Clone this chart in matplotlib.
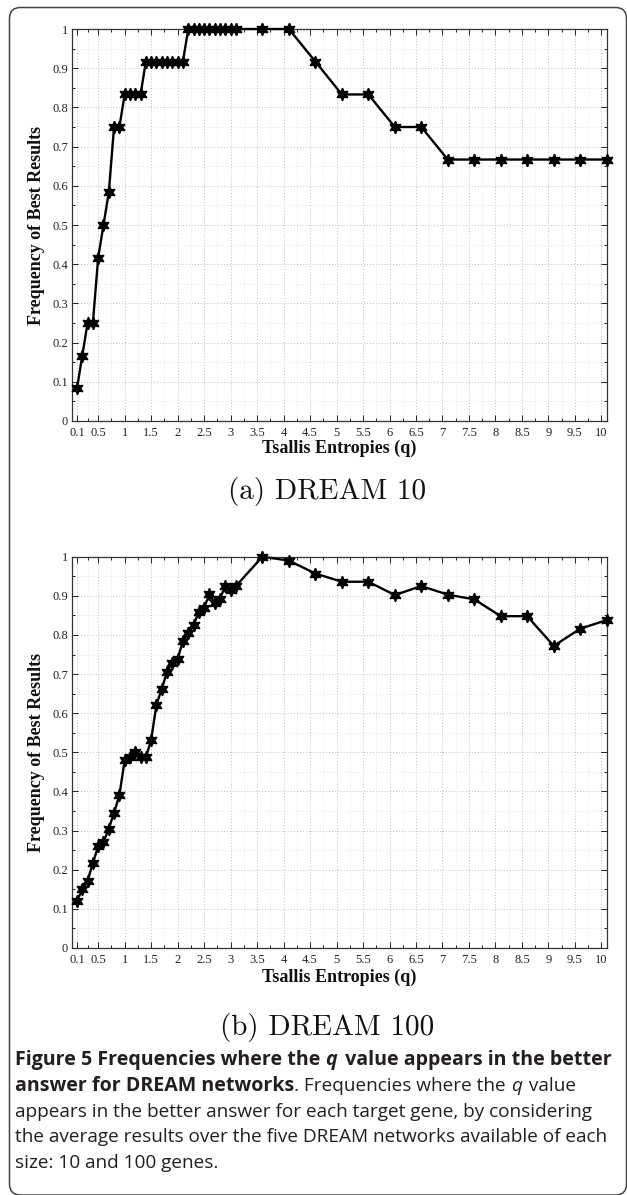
import numpy as np
import matplotlib
matplotlib.use("Agg")
import matplotlib.pyplot as plt
from matplotlib.patches import FancyBboxPatch

# q values tested (same for both panels)
q_vals = [0.1, 0.2, 0.3, 0.4, 0.5, 0.6, 0.7, 0.8, 0.9, 1.0, 1.1, 1.2, 1.3, 1.4, 1.5,
          1.6, 1.7, 1.8, 1.9, 2.0, 2.1, 2.2, 2.3, 2.4, 2.5, 2.6, 2.7, 2.8, 2.9, 3.0,
          3.1, 3.6, 4.1, 4.6, 5.1, 5.6, 6.1, 6.6, 7.1, 7.6, 8.1, 8.6, 9.1, 9.6, 10.1]

dream10 = [0.083, 0.167, 0.25, 0.25, 0.417, 0.5, 0.583, 0.75, 0.75,
           0.833, 0.833, 0.833, 0.833,
           0.917, 0.917, 0.917, 0.917, 0.917, 0.917, 0.917, 0.917,
           1.0, 1.0, 1.0, 1.0, 1.0, 1.0, 1.0, 1.0, 1.0, 1.0,
           1.0, 1.0, 0.917, 0.833, 0.833, 0.75, 0.75,
           0.667, 0.667, 0.667, 0.667, 0.667, 0.667, 0.667]

dream100 = [0.12, 0.15, 0.172, 0.217, 0.26, 0.27, 0.305, 0.346, 0.39,
            0.48, 0.487, 0.50, 0.487, 0.487, 0.532, 0.622, 0.662, 0.706, 0.728, 0.739,
            0.784, 0.805, 0.825, 0.859, 0.870, 0.904, 0.882, 0.893, 0.925, 0.915, 0.925,
            1.0, 0.99, 0.957, 0.936, 0.936, 0.902, 0.925, 0.903, 0.891, 0.848, 0.848,
            0.772, 0.816, 0.838]

xtick_labels = ["0.1", "0.5", "1", "1.5", "2", "2.5", "3", "3.5", "4", "4.5", "5", "5.5",
                "6", "6.5", "7", "7.5", "8", "8.5", "9", "9.5", "10"]
ytick_labels = ["0", "0.1", "0.2", "0.3", "0.4", "0.5", "0.6", "0.7", "0.8", "0.9", "1"]

W, H = 627, 1195
SERIF = "Liberation Serif"
INK = "#231f20"

fig = plt.figure(figsize=(W/100, H/100), dpi=100)

def px(x0, y0, x1, y1):
    # pixel box (top-left origin) -> figure fraction [l, b, w, h]
    return [x0/W, 1 - y1/H, (x1-x0)/W, (y1-y0)/H]

def panel(rect, vals):
    ax = fig.add_axes(rect)
    xt = [float(s) for s in xtick_labels]
    yt = [float(s) for s in ytick_labels]
    ax.set_xlim(0, 10.1); ax.set_ylim(0, 1)
    ax.set_xticks(xt); ax.set_xticklabels(xtick_labels, fontfamily=SERIF, fontsize=9)
    ax.set_yticks(yt); ax.set_yticklabels(ytick_labels, fontfamily=SERIF, fontsize=9)
    ax.set_xticks([(a+b)/2 for a, b in zip(xt[:-1], xt[1:])], minor=True)
    ax.set_yticks([(a+b)/2 for a, b in zip(yt[:-1], yt[1:])], minor=True)
    ax.tick_params(which="both", direction="in", top=True, right=True, width=0.7, colors="#222")
    ax.tick_params(which="major", length=4.5)
    ax.tick_params(which="minor", length=2.5)
    ax.tick_params(axis="x", pad=4); ax.tick_params(axis="y", pad=2.5)
    ax.grid(True, which="major", color="#aaaaaa", lw=0.6, ls=(0, (1, 2.5)))
    ax.grid(True, which="minor", color="#d2d2d2", lw=0.5, ls=(0, (1, 2.5)))
    ax.set_axisbelow(True)
    for s in ax.spines.values():
        s.set_linewidth(0.9); s.set_color("#333")
    ax.plot(q_vals, vals, color="black", lw=1.7, marker=(6, 1, 0), ms=9,
            mfc="black", mec="black", clip_on=False, zorder=3)
    return ax

panel(px(71.7, 29, 606.7, 421), dream10)
panel(px(71.7, 556.7, 606.7, 948), dream100)

def ftext(x, y, s, **kw):
    return fig.text(x/W, 1 - y/H, s, **kw)

for yc, xl in [(225, 448), (752, 977)]:
    ftext(37, yc, "Frequency of Best Results", rotation=90, ha="center", va="center",
          fontfamily=SERIF, fontweight="bold", fontsize=13, color="#111")
    ftext(339, xl, "Tsallis Entropies (q)", ha="center", va="center",
          fontfamily=SERIF, fontweight="bold", fontsize=13, color="#111")

ftext(327, 492, "(a) DREAM 10", ha="center", va="center", fontfamily="cmr10", fontsize=21, color="#111")
ftext(327, 1027, "(b) DREAM 100", ha="center", va="center", fontfamily="cmr10", fontsize=21, color="#111")

# caption with mixed bold / italic runs
B, N, BI, I = ("bold", "normal"), ("normal", "normal"), ("bold", "italic"), ("normal", "italic")
caption = [
    [("Figure 5 Frequencies where the ", B), ("q", BI), (" value appears in the better", B)],
    [("answer for DREAM networks", B), (". Frequencies where the ", N), ("q", I), (" value", N)],
    [("appears in the better answer for each target gene, by considering", N)],
    [("the average results over the five DREAM networks available of each", N)],
    [("size: 10 and 100 genes.", N)],
]
CAP_FONT = "Open Sans"
renderer = fig.canvas.get_renderer()

def run_width(s, style, size):
    w, st = style
    def meas(t):
        tt = fig.text(0, 0, t, fontfamily=CAP_FONT, fontweight=w, fontstyle=st, fontsize=size)
        v = tt.get_window_extent(renderer).width
        tt.remove()
        return v
    return meas("I" + s + "I") - meas("II")

# bold size fitted to the first line, regular size to the fourth line
w_b = sum(run_width(s, st, 10.0) for s, st in caption[0])
w_n = sum(run_width(s, st, 10.0) for s, st in caption[3])
size_b = 10.0 * 596.0 / w_b
size_n = 10.0 * 592.0 / w_n

y = 1065
for line in caption:
    x = 15
    for s, st in line:
        sz = size_b if st[0] == "bold" else size_n
        ftext(x, y, s, ha="left", va="baseline", fontfamily=CAP_FONT, fontweight=st[0],
              fontstyle=st[1], fontsize=sz, color=INK)
        x += run_width(s, st, sz) + (2.5 if st[1] == "italic" else 0)
    y += 25.8

# rounded frame around the figure
frame = FancyBboxPatch((0.095, 0.0), 6.265 - 0.095, 11.875,
                       boxstyle="round,pad=0,rounding_size=0.11",
                       transform=fig.dpi_scale_trans, fill=False, lw=1.1, ec="#444")
fig.patches.append(frame)

fig.savefig("out.png", dpi=100)
